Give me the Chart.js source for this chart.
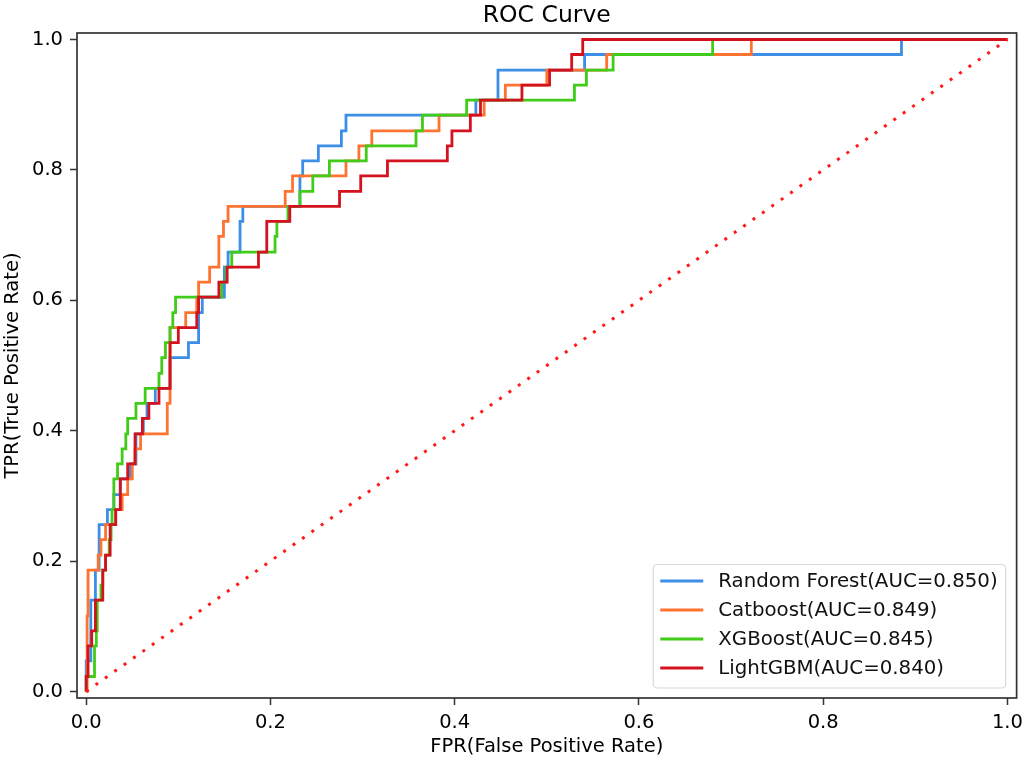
<!DOCTYPE html>
<html>
<head>
<meta charset="utf-8">
<title>ROC Curve</title>
<script src="https://cdn.jsdelivr.net/npm/chart.js@4.4.1/dist/chart.umd.min.js"></script>
<style>
  html, body { margin: 0; padding: 0; background: #ffffff; }
  #wrap { width: 1029px; height: 763px; position: relative; }
</style>
</head>
<body>
<div id="wrap"><canvas id="rocChart"></canvas></div>
<script>
// tick positions on both axes
var tickValues = [0, 0.2, 0.4, 0.6, 0.8, 1.0];

var modelNames = ['Random Forest', 'Catboost', 'XGBoost', 'LightGBM'];
var aucValues = ['0.850', '0.849', '0.845', '0.840'];
var lineColors = ['#3c8ee6', '#ff7330', '#40cc18', '#d4111e'];

// ROC corner points (top of each vertical step)
var rfFpr = [0, 0, 0.005, 0.010, 0.014, 0.023, 0.030, 0.037, 0.048, 0.054, 0.062, 0.066, 0.075, 0.091, 0.111, 0.122, 0.126, 0.150, 0.154, 0.167, 0.170, 0.232, 0.235, 0.252, 0.277, 0.282, 0.423, 0.447, 0.541, 0.885, 1.0];
var rfTpr = [0, 0.047, 0.140, 0.186, 0.256, 0.279, 0.302, 0.326, 0.349, 0.395, 0.419, 0.442, 0.465, 0.512, 0.535, 0.581, 0.605, 0.651, 0.674, 0.721, 0.744, 0.791, 0.814, 0.837, 0.860, 0.884, 0.907, 0.953, 0.977, 1.0, 1.0];

var cbFpr = [0, 0.001, 0.002, 0.013, 0.016, 0.021, 0.032, 0.039, 0.045, 0.050, 0.053, 0.059, 0.088, 0.091, 0.108, 0.120, 0.122, 0.134, 0.144, 0.149, 0.154, 0.216, 0.224, 0.282, 0.296, 0.310, 0.383, 0.432, 0.455, 0.500, 0.565, 0.722, 1.0];
var cbTpr = [0, 0.116, 0.186, 0.209, 0.233, 0.256, 0.279, 0.302, 0.326, 0.349, 0.372, 0.395, 0.442, 0.558, 0.581, 0.605, 0.628, 0.651, 0.698, 0.721, 0.744, 0.767, 0.791, 0.814, 0.837, 0.860, 0.884, 0.907, 0.930, 0.953, 0.977, 1.0, 1.0];

var xgbFpr = [0, 0, 0.009, 0.011, 0.012, 0.016, 0.018, 0.021, 0.025, 0.027, 0.028, 0.030, 0.034, 0.039, 0.043, 0.045, 0.054, 0.064, 0.079, 0.082, 0.086, 0.091, 0.094, 0.097, 0.147, 0.152, 0.158, 0.205, 0.207, 0.219, 0.232, 0.246, 0.264, 0.304, 0.358, 0.365, 0.413, 0.530, 0.543, 0.572, 0.680, 1.0];
var xgbTpr = [0, 0.023, 0.070, 0.093, 0.140, 0.163, 0.186, 0.209, 0.233, 0.256, 0.279, 0.326, 0.349, 0.372, 0.395, 0.419, 0.442, 0.465, 0.488, 0.512, 0.535, 0.558, 0.581, 0.605, 0.628, 0.651, 0.674, 0.698, 0.721, 0.744, 0.767, 0.791, 0.814, 0.837, 0.860, 0.884, 0.907, 0.930, 0.953, 0.977, 1.0, 1.0];

var lgbFpr = [0, 0, 0.002, 0.006, 0.010, 0.018, 0.021, 0.026, 0.032, 0.037, 0.045, 0.053, 0.061, 0.068, 0.079, 0.091, 0.100, 0.120, 0.122, 0.144, 0.153, 0.187, 0.196, 0.221, 0.275, 0.298, 0.327, 0.392, 0.397, 0.417, 0.428, 0.473, 0.503, 0.527, 0.539, 1.0];
var lgbTpr = [0, 0.023, 0.070, 0.093, 0.140, 0.186, 0.209, 0.256, 0.279, 0.326, 0.349, 0.395, 0.419, 0.442, 0.465, 0.535, 0.558, 0.581, 0.605, 0.628, 0.651, 0.674, 0.721, 0.744, 0.767, 0.791, 0.814, 0.837, 0.860, 0.884, 0.907, 0.930, 0.953, 0.977, 1.0, 1.0];

var chanceFpr = [0, 1];
var chanceTpr = [0, 1];

function toPoints(xs, ys) {
  return xs.map(function (x, i) { return { x: x, y: ys[i] }; });
}

var rocSeries = [[rfFpr, rfTpr], [cbFpr, cbTpr], [xgbFpr, xgbTpr], [lgbFpr, lgbTpr]];

var datasets = rocSeries.map(function (s, i) {
  return {
    label: modelNames[i] + '(AUC=' + aucValues[i] + ')',
    data: toPoints(s[0], s[1]),
    borderColor: lineColors[i],
    borderWidth: 2.8,
    pointRadius: 0,
    stepped: 'before',
    fill: false,
    order: 4 - i   // later models drawn on top, like matplotlib
  };
});

datasets.push({
  label: 'chance',
  data: toPoints(chanceFpr, chanceTpr),
  borderColor: '#ff1a1a',
  borderWidth: 3,
  borderDash: [3, 8.5],
  pointRadius: 0,
  fill: false,
  order: 0
});

var font = "'DejaVu Sans', sans-serif";
var titleText = 'ROC Curve';

// title over the plot area, box around it, legend in the lower right corner
var framePlugin = {
  id: 'frameAndLegend',
  afterDatasetsDraw: function (chart) {
    var ctx = chart.ctx, a = chart.chartArea;
    ctx.save();
    ctx.strokeStyle = '#333333';
    ctx.lineWidth = 1.7;
    ctx.strokeRect(a.left, a.top, a.right - a.left, a.bottom - a.top);

    ctx.fillStyle = '#000';
    ctx.font = '23.5px ' + font;
    ctx.textAlign = 'center';
    ctx.textBaseline = 'middle';
    ctx.fillText(titleText, (a.left + a.right) / 2, 15.5);

    ctx.font = '19.8px ' + font;
    var labels = datasets.slice(0, 4).map(function (d) { return d.label; });
    var maxW = 0;
    labels.forEach(function (t) { maxW = Math.max(maxW, ctx.measureText(t).width); });
    var rowH = 29;
    var w = 7 + 43 + 15 + maxW + 8;
    var h = 16.5 + rowH * 3 + 20;
    var x0 = a.right - 11 - w;
    var y0 = a.bottom - 10 - h;

    ctx.beginPath();
    if (ctx.roundRect) ctx.roundRect(x0, y0, w, h, 4); else ctx.rect(x0, y0, w, h);
    ctx.fillStyle = 'rgba(255,255,255,0.85)';
    ctx.fill();
    ctx.strokeStyle = '#d8d8d8';
    ctx.lineWidth = 1.2;
    ctx.stroke();

    labels.forEach(function (t, i) {
      var cy = y0 + 16.5 + i * rowH;
      ctx.beginPath();
      ctx.moveTo(x0 + 7, cy);
      ctx.lineTo(x0 + 50, cy);
      ctx.strokeStyle = lineColors[i];
      ctx.lineWidth = 2.8;
      ctx.stroke();
      ctx.fillStyle = '#111';
      ctx.textAlign = 'left';
      ctx.textBaseline = 'middle';
      ctx.fillText(t, x0 + 65, cy + 1);
    });
    ctx.restore();
  }
};

function setTicks(scale) {
  scale.ticks = tickValues.map(function (v) { return { value: v }; });
}

var ctx = document.getElementById('rocChart');

var rocChart = new Chart(ctx, {
  type: 'line',
  data: { datasets: datasets },
  options: {
    responsive: true,
    maintainAspectRatio: false,
    animation: false,
    layout: { padding: { left: 0, right: 9, top: 33, bottom: 0 } },
    plugins: {
      legend: { display: false },
      tooltip: { enabled: false },
      title: { display: false }
    },
    scales: {
      x: {
        type: 'linear',
        min: -0.01,
        max: 1.01,
        afterBuildTicks: setTicks,
        afterFit: function (scale) { scale.height = 65; },
        border: { display: false },
        grid: { drawOnChartArea: false, drawTicks: true, tickLength: 7, tickColor: '#333333', tickWidth: 1.5 },
        ticks: {
          color: '#000',
          padding: 6,
          maxRotation: 0,
          font: { family: font, size: 19.5 },
          callback: function (v) { return v.toFixed(1); }
        },
        title: {
          display: true,
          text: 'FPR(False Positive Rate)',
          color: '#000',
          font: { family: font, size: 19.5 },
          padding: { top: 0, bottom: 4 }
        }
      },
      y: {
        type: 'linear',
        min: -0.01,
        max: 1.01,
        afterBuildTicks: setTicks,
        afterFit: function (scale) { scale.width = 77; },
        border: { display: false },
        grid: { drawOnChartArea: false, drawTicks: true, tickLength: 7, tickColor: '#333333', tickWidth: 1.5 },
        ticks: {
          color: '#000',
          padding: 7,
          font: { family: font, size: 19.5 },
          callback: function (v) { return v.toFixed(1); }
        },
        title: {
          display: true,
          text: 'TPR(True Positive Rate)',
          color: '#000',
          font: { family: font, size: 19.5 },
          padding: { top: 1, bottom: 0 }
        }
      }
    }
  },
  plugins: [framePlugin]
});
</script>
</body>
</html>
